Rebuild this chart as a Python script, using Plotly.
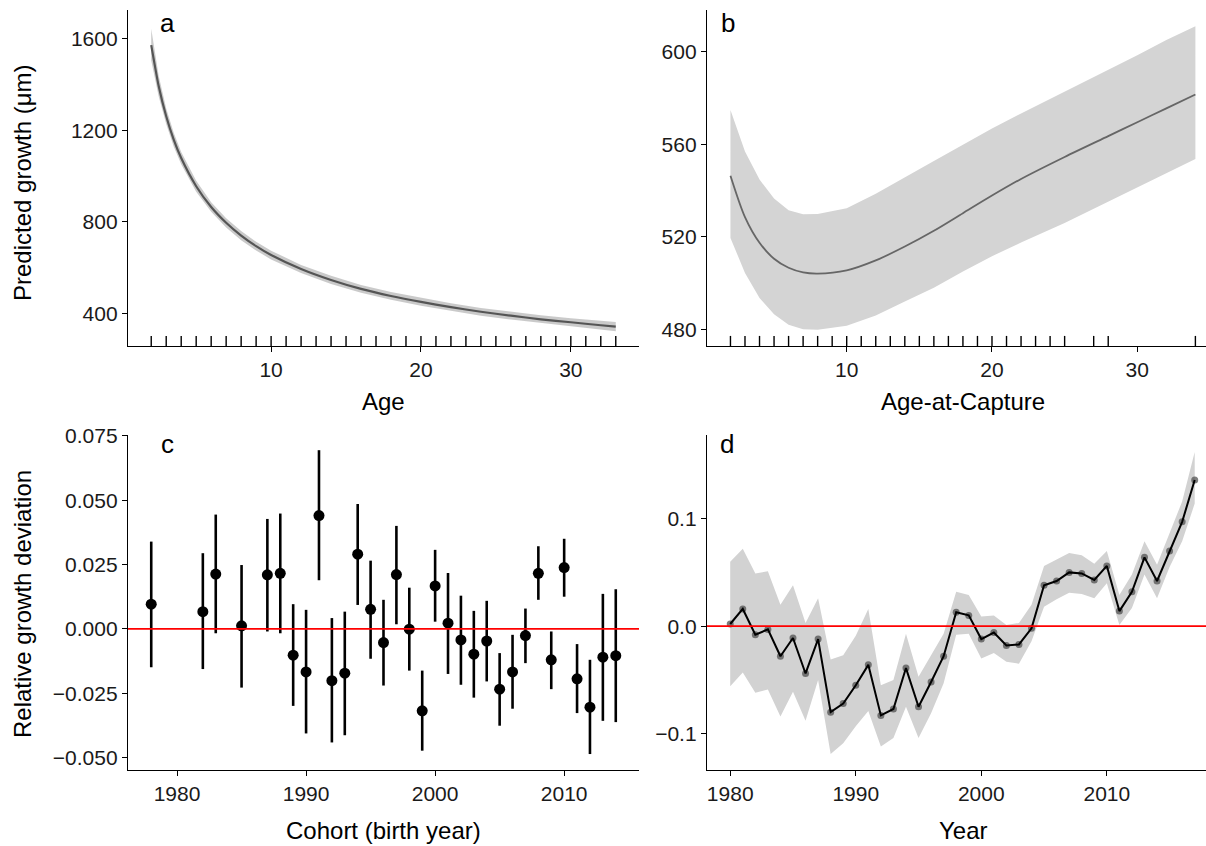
import plotly.graph_objects as go

# ---------------- data ----------------
# Panel a: predicted growth vs age
ages_a = [2, 2.5, 3, 3.5, 4, 5, 6, 7, 8, 9, 10, 12, 14, 16, 18, 20, 22, 24, 26, 28, 30, 32, 33]
growth_a = [1573, 1393, 1262, 1160, 1079, 956, 865, 796, 740, 694, 655, 594, 546, 507, 476, 450,
            427, 407, 390, 374, 361, 348, 342]
upper_a = [1645, 1438, 1296, 1190, 1106, 980, 886, 816, 760, 713, 674, 612, 564, 524, 493, 467,
           444, 424, 407, 392, 379, 367, 362]
lower_a = [1506, 1348, 1228, 1130, 1052, 932, 844, 776, 720, 675, 636, 576, 528, 490, 459, 433,
           410, 390, 373, 356, 343, 329, 322]
rug_a = [2, 3, 4, 5, 6, 7, 8, 9, 10, 11, 12, 13, 14, 15, 16, 17, 18, 19, 20, 21, 22, 23, 24, 25,
         26, 27, 28, 29, 30, 31, 32, 33]

# Panel b: predicted growth vs age-at-capture
ages_b = [2, 3, 4, 5, 6, 7, 8, 10, 12, 14, 16, 18, 20, 22, 25, 28, 30, 32, 34]
growth_b = [546.4, 528.5, 517.4, 510.5, 506.6, 504.6, 504.1, 505.5, 509.8, 515.8, 522.6, 530.2,
            537.8, 545.0, 554.5, 563.5, 569.5, 575.5, 581.5]
upper_b = [574.8, 556.9, 544.7, 536.5, 531.5, 529.7, 529.8, 532.3, 538.6, 545.8, 552.8, 559.8,
           566.8, 573.3, 582.6, 592.0, 598.4, 605.0, 611.0]
lower_b = [519.5, 504.4, 493.5, 486.5, 482.0, 480.0, 479.8, 481.5, 486.0, 492.0, 498.0, 505.0,
           511.6, 517.5, 526.0, 535.0, 541.3, 547.5, 553.6]
rug_b = [2, 3, 4, 5, 6, 7, 8, 9, 10, 11, 12, 13, 14, 15, 16, 17, 18, 19, 20, 21, 22, 23, 24, 25,
         27, 28, 34]

# Panel c: cohort deviations
years_c = [1978, 1982, 1983, 1985, 1987, 1988, 1989, 1990, 1991, 1992, 1993, 1994, 1995, 1996,
           1997, 1998, 1999, 2000, 2001, 2002, 2003, 2004, 2005, 2006, 2007, 2008, 2009, 2010,
           2011, 2012, 2013, 2014]
est_c = [0.0096, 0.0067, 0.0213, 0.0012, 0.0210, 0.0216, -0.0102, -0.0167, 0.0440, -0.0201,
         -0.0172, 0.0290, 0.0076, -0.0053, 0.0211, -0.0001, -0.0318, 0.0167, 0.0022, -0.0043,
         -0.0098, -0.0047, -0.0234, -0.0167, -0.0026, 0.0216, -0.0120, 0.0238, -0.0194, -0.0304,
         -0.0110, -0.0104]
upper_c = [0.0339, 0.0294, 0.0444, 0.0248, 0.0427, 0.0448, 0.0096, 0.0074, 0.0694, 0.0042,
           0.0067, 0.0485, 0.0265, 0.0113, 0.0400, 0.0160, -0.0162, 0.0307, 0.0217, 0.0129,
           0.0070, 0.0109, -0.0094, -0.0023, 0.0079, 0.0321, -0.0010, 0.0350, -0.0059, -0.0120,
           0.0136, 0.0154]
lower_c = [-0.0149, -0.0156, -0.0017, -0.0228, -0.0010, -0.0017, -0.0299, -0.0406, 0.0189,
           -0.0441, -0.0413, 0.0093, -0.0116, -0.0220, 0.0018, -0.0162, -0.0473, 0.0028, -0.0175,
           -0.0217, -0.0267, -0.0204, -0.0376, -0.0310, -0.0133, 0.0113, -0.0234, 0.0125, -0.0327,
           -0.0486, -0.0357, -0.0362]

# Panel d: year effects
years_d = [1980, 1981, 1982, 1983, 1984, 1985, 1986, 1987, 1988, 1989, 1990, 1991, 1992, 1993,
           1994, 1995, 1996, 1997, 1998, 1999, 2000, 2001, 2002, 2003, 2004, 2005, 2006, 2007,
           2008, 2009, 2010, 2011, 2012, 2013, 2014, 2015, 2016, 2017]
est_d = [0.002, 0.016, -0.008, -0.003, -0.028, -0.011, -0.044, -0.012, -0.080, -0.072,
         -0.055, -0.036, -0.083, -0.077, -0.039, -0.075, -0.052, -0.028, 0.013, 0.010,
         -0.012, -0.006, -0.018, -0.017, -0.002, 0.038, 0.042, 0.050, 0.049, 0.043,
         0.056, 0.014, 0.032, 0.064, 0.042, 0.070, 0.097, 0.136]
upper_d = [0.060, 0.072, 0.049, 0.051, 0.020, 0.038, 0.003, 0.026, -0.031, -0.027,
           -0.009, 0.016, -0.055, -0.050, -0.007, -0.047, -0.027, -0.007, 0.032, 0.029,
           0.009, 0.010, 0.001, 0.003, 0.020, 0.056, 0.062, 0.068, 0.066, 0.058,
           0.070, 0.029, 0.048, 0.079, 0.057, 0.087, 0.116, 0.162]
lower_d = [-0.056, -0.043, -0.062, -0.059, -0.084, -0.061, -0.088, -0.050, -0.119, -0.109,
           -0.093, -0.079, -0.112, -0.104, -0.075, -0.104, -0.081, -0.053, -0.008, -0.007,
           -0.030, -0.025, -0.033, -0.035, -0.014, 0.018, 0.025, 0.031, 0.030, 0.026,
           0.040, 0.001, 0.017, 0.048, 0.026, 0.055, 0.079, 0.114]

# tick labels
ticks_a_x = [10, 20, 30]
ticks_a_y = [400, 800, 1200, 1600]
ticks_b_y = [480, 520, 560, 600]
ticks_c_x = [1980, 1990, 2000, 2010]
ticks_c_y = [-0.05, -0.025, 0.0, 0.025, 0.05, 0.075]
ticks_d_y = [-0.1, 0.0, 0.1]

# ---------------- layout helpers ----------------
W, H = 1206, 846
FONT = "Liberation Sans, Arial, Helvetica, sans-serif"
TICKCOL = "#1a1a1a"


def fx(p):
    return p / W


def fy(p):
    return 1 - p / H


fig = go.Figure()

# Panel a
fig.add_trace(go.Scatter(x=ages_a + ages_a[::-1], y=upper_a + lower_a[::-1], fill="toself",
                         fillcolor="rgba(180,180,180,0.7)", line=dict(width=0), mode="lines",
                         hoverinfo="skip", showlegend=False, xaxis="x", yaxis="y"))
fig.add_trace(go.Scatter(x=ages_a, y=growth_a, mode="lines",
                         line=dict(color="#555555", width=2.2, shape="spline", smoothing=0.6),
                         showlegend=False, xaxis="x", yaxis="y"))

# Panel b
fig.add_trace(go.Scatter(x=ages_b + ages_b[::-1], y=upper_b + lower_b[::-1], fill="toself",
                         fillcolor="#d4d4d4", line=dict(width=0), mode="lines",
                         hoverinfo="skip", showlegend=False, xaxis="x2", yaxis="y2"))
fig.add_trace(go.Scatter(x=ages_b, y=growth_b, mode="lines",
                         line=dict(color="#666666", width=1.8, shape="spline", smoothing=0.8),
                         showlegend=False, xaxis="x2", yaxis="y2"))

# Panel c: error bars as segments
seg_x, seg_y = [], []
for yr, lo, hi in zip(years_c, lower_c, upper_c):
    seg_x += [yr, yr, None]
    seg_y += [lo, hi, None]
fig.add_trace(go.Scatter(x=seg_x, y=seg_y, mode="lines", line=dict(color="black", width=2.6),
                         showlegend=False, xaxis="x3", yaxis="y3"))
fig.add_trace(go.Scatter(x=years_c, y=est_c, mode="markers", marker=dict(color="black", size=11),
                         showlegend=False, xaxis="x3", yaxis="y3"))

# Panel d
fig.add_trace(go.Scatter(x=years_d + years_d[::-1], y=upper_d + lower_d[::-1], fill="toself",
                         fillcolor="#d2d2d2", line=dict(width=0), mode="lines",
                         hoverinfo="skip", showlegend=False, xaxis="x4", yaxis="y4"))
fig.add_trace(go.Scatter(x=years_d, y=est_d, mode="markers",
                         marker=dict(color="rgba(80,80,80,0.75)", size=7),
                         showlegend=False, xaxis="x4", yaxis="y4"))
fig.add_trace(go.Scatter(x=years_d, y=est_d, mode="lines", line=dict(color="black", width=2),
                         showlegend=False, xaxis="x4", yaxis="y4"))

axis_common = dict(showline=True, linecolor="black", linewidth=1.4, ticks="outside",
                   ticklen=5, tickwidth=1.4, tickcolor="black", showgrid=False,
                   zeroline=False, tickfont=dict(family=FONT, size=21, color=TICKCOL),
                   fixedrange=True, automargin=False)

top_dom = [fy(346), fy(10)]
bot_dom = [fy(770), fy(435)]

fig.update_layout(
    template="none",
    width=W, height=H, autosize=False,
    margin=dict(l=0, r=0, t=0, b=0, pad=0, autoexpand=False),
    paper_bgcolor="white", plot_bgcolor="white", showlegend=False,
    font=dict(family=FONT, color="black"),
    xaxis=dict(domain=[fx(128), fx(639)], anchor="y", range=[0.45, 34.55],
               tickvals=ticks_a_x, ticktext=[str(v) for v in ticks_a_x], **axis_common),
    yaxis=dict(domain=top_dom, anchor="x", range=[257.3, 1726.5],
               tickvals=ticks_a_y, ticktext=[str(v) for v in ticks_a_y], **axis_common),
    xaxis2=dict(domain=[fx(707), 1.0], anchor="y2", range=[0.385, 34.73],
                tickvals=ticks_a_x, ticktext=[str(v) for v in ticks_a_x], **axis_common),
    yaxis2=dict(domain=top_dom, anchor="x2", range=[472.8, 618],
                tickvals=ticks_b_y, ticktext=[str(v) for v in ticks_b_y], **axis_common),
    xaxis3=dict(domain=[fx(128), fx(639)], anchor="y3", range=[1976.2, 2015.8],
                tickvals=ticks_c_x, ticktext=[str(v) for v in ticks_c_x], **axis_common),
    yaxis3=dict(domain=bot_dom, anchor="x3", range=[-0.0548, 0.0753],
                tickvals=ticks_c_y, ticktext=[f"{v:.3f}".replace("-", "\u2212") for v in ticks_c_y],
                **axis_common),
    xaxis4=dict(domain=[fx(707), 1.0], anchor="y4", range=[1978.15, 2017.9],
                tickvals=ticks_c_x, ticktext=[str(v) for v in ticks_c_x], **axis_common),
    yaxis4=dict(domain=bot_dom, anchor="x4", range=[-0.1338, 0.1778],
                tickvals=ticks_d_y, ticktext=[f"{v:.1f}".replace("-", "\u2212") for v in ticks_d_y],
                **axis_common),
)

shapes = []
for a in rug_a:
    shapes.append(dict(type="line", xref="x", yref="y domain", x0=a, x1=a, y0=0, y1=0.03,
                       line=dict(color="black", width=1.4)))
for a in rug_b:
    shapes.append(dict(type="line", xref="x2", yref="y2 domain", x0=a, x1=a, y0=0, y1=0.03,
                       line=dict(color="black", width=1.4)))
shapes.append(dict(type="line", xref="x3 domain", yref="y3", x0=0, x1=1, y0=0, y1=0,
                   line=dict(color="#ff0000", width=1.6), layer="above"))
shapes.append(dict(type="line", xref="x4 domain", yref="y4", x0=0, x1=1, y0=0, y1=0,
                   line=dict(color="#ff0000", width=1.6), layer="above"))
fig.update_layout(shapes=shapes)

ann = []


def label(text, x, y, size, angle=0):
    ann.append(dict(text=text, x=fx(x), y=fy(y), xref="paper", yref="paper", showarrow=False,
                    xanchor="center", yanchor="middle", textangle=angle,
                    font=dict(family=FONT, size=size, color="black")))


label("a", 167, 23, 26)
label("b", 728, 23, 26)
label("c", 167, 444, 26)
label("d", 727, 444, 26)
label("Age", 383.5, 401, 24)
label("Age-at-Capture", 963, 401, 24)
label("Cohort (birth year)", 383.5, 830, 24)
label("Year", 963, 830, 24)
label("Predicted growth (\u03bcm)", 22, 183, 24, -90)
label("Relative growth deviation", 22, 604, 24, -90)
fig.update_layout(annotations=ann)

fig.write_html("out.html", config={"displayModeBar": False},
               post_script="document.body.style.margin='0';document.body.style.overflow='hidden';")
